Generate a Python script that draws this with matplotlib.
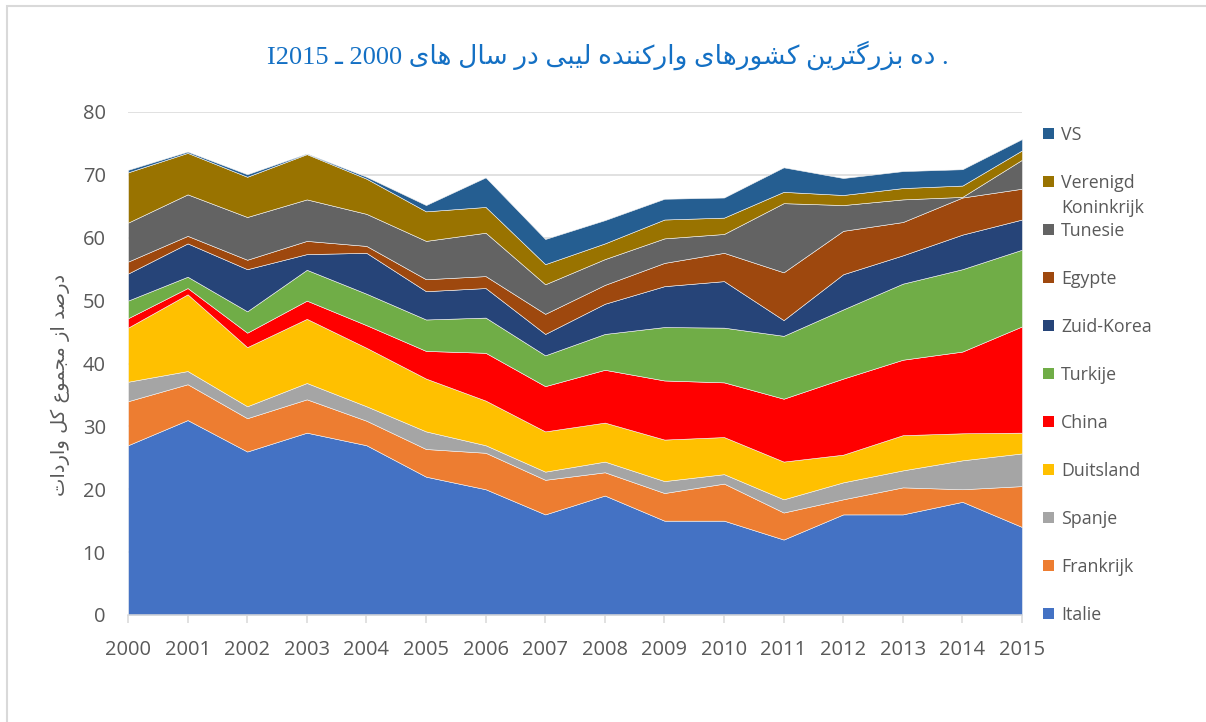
import re

import matplotlib

matplotlib.use("Agg")
import matplotlib.pyplot as plt
from matplotlib.patches import Rectangle

years = list(range(2000, 2016))

italie = [27, 31, 26, 29, 27, 22, 20, 16, 19, 15, 15, 12, 16, 16, 18, 14]
frankrijk = [7.0, 5.7, 5.3, 5.3, 3.9, 4.4, 5.8, 5.5, 3.7, 4.4, 5.9, 4.3, 2.4, 4.3, 2.0, 6.5]
spanje = [3.1, 2.1, 1.9, 2.6, 2.3, 2.8, 1.2, 1.3, 1.7, 1.9, 1.5, 2.1, 2.7, 2.7, 4.6, 5.2]
duitsland = [8.6, 12.2, 9.4, 10.2, 9.3, 8.4, 7.1, 6.4, 6.2, 6.6, 5.9, 6.0, 4.4, 5.6, 4.3, 3.3]
china = [1.5, 1.0, 2.3, 2.9, 3.6, 4.4, 7.6, 7.2, 8.4, 9.4, 8.7, 10.0, 12.1, 12.0, 13.0, 16.9]
turkije = [2.8, 1.8, 3.4, 4.9, 5.0, 5.0, 5.6, 4.9, 5.7, 8.5, 8.7, 10.0, 11.0, 12.1, 13.1, 12.2]
zuid_korea = [4.3, 5.3, 6.7, 2.5, 6.5, 4.5, 4.7, 3.4, 4.8, 6.5, 7.4, 2.5, 5.6, 4.5, 5.5, 4.8]
egypte = [1.9, 1.2, 1.5, 2.1, 1.1, 1.9, 1.9, 3.2, 3.0, 3.7, 4.5, 7.6, 6.9, 5.3, 5.9, 4.9]
tunesie = [6.2, 6.6, 6.8, 6.6, 5.1, 6.1, 6.9, 4.7, 4.1, 3.9, 3.0, 11.0, 4.1, 3.6, 0.1, 4.6]
verenigd_koninkrijk = [8.0, 6.6, 6.4, 7.2, 5.6, 4.7, 4.1, 3.2, 2.5, 3.0, 2.6, 1.8, 1.6, 1.8, 1.8, 1.5]
vs = [0.4, 0.2, 0.4, 0.1, 0.3, 1.0, 4.7, 4.0, 3.7, 3.3, 3.2, 3.9, 2.7, 2.7, 2.6, 1.8]

series = [italie, frankrijk, spanje, duitsland, china, turkije,
          zuid_korea, egypte, tunesie, verenigd_koninkrijk, vs]
labels = ["Italie", "Frankrijk", "Spanje", "Duitsland", "China", "Turkije",
          "Zuid-Korea", "Egypte", "Tunesie", "Verenigd\nKoninkrijk", "VS"]
colors = ["#4472C4", "#ED7D31", "#A5A5A5", "#FFC000", "#FF0000", "#70AD47",
          "#264478", "#9E480E", "#636363", "#997300", "#255E91"]

title = ". ده بزرگترین کشورهای وارکننده لیبی در سال های 2000 ـ I2015"
ylabel = "درصد از مجموع کل واردات"

# matplotlib has no arabic shaping: pick the contextual forms by hand
FORMS = {
    "ا": ("\uFE8D", "\uFE8E", None, None),
    "ب": ("\uFE8F", "\uFE90", "\uFE91", "\uFE92"),
    "ت": ("\uFE95", "\uFE96", "\uFE97", "\uFE98"),
    "ج": ("\uFE9D", "\uFE9E", "\uFE9F", "\uFEA0"),
    "د": ("\uFEA9", "\uFEAA", None, None),
    "ر": ("\uFEAD", "\uFEAE", None, None),
    "ز": ("\uFEAF", "\uFEB0", None, None),
    "س": ("\uFEB1", "\uFEB2", "\uFEB3", "\uFEB4"),
    "ش": ("\uFEB5", "\uFEB6", "\uFEB7", "\uFEB8"),
    "ص": ("\uFEB9", "\uFEBA", "\uFEBB", "\uFEBC"),
    "ع": ("\uFEC9", "\uFECA", "\uFECB", "\uFECC"),
    "ل": ("\uFEDD", "\uFEDE", "\uFEDF", "\uFEE0"),
    "م": ("\uFEE1", "\uFEE2", "\uFEE3", "\uFEE4"),
    "ن": ("\uFEE5", "\uFEE6", "\uFEE7", "\uFEE8"),
    "ه": ("\uFEE9", "\uFEEA", "\uFEEB", "\uFEEC"),
    "و": ("\uFEED", "\uFEEE", None, None),
    "ک": ("\uFB8E", "\uFB8F", "\uFB90", "\uFB91"),
    "گ": ("\uFB92", "\uFB93", "\uFB94", "\uFB95"),
    "ی": ("\uFBFC", "\uFBFD", "\uFBFE", "\uFBFF"),
}


def joins_next(ch):
    return ch in FORMS and FORMS[ch][2] is not None


def shape(text):
    out = []
    for i, ch in enumerate(text):
        if ch not in FORMS:
            out.append(ch)
            continue
        prev_ch = text[i - 1] if i > 0 else ""
        next_ch = text[i + 1] if i + 1 < len(text) else ""
        left = joins_next(prev_ch)
        right = joins_next(ch) and next_ch in FORMS
        iso, fin, ini, med = FORMS[ch]
        if left and right:
            out.append(med)
        elif left:
            out.append(fin)
        elif right:
            out.append(ini)
        else:
            out.append(iso)
    return "".join(out)


def rtl(text):
    shaped = shape(text)
    parts = re.split(r"([A-Za-z0-9]+)", shaped)
    parts = [p if re.fullmatch(r"[A-Za-z0-9]+", p) else p[::-1] for p in parts if p]
    return "".join(reversed(parts))


W, H = 1206, 722
fig = plt.figure(figsize=(W / 100, H / 100), dpi=100)
fig.patch.set_facecolor("white")

ax = fig.add_axes([128 / W, 1 - 615 / H, 894 / W, 503 / H])
ax.stackplot(years, *series, colors=colors, edgecolor="#f4f4f4", linewidth=0.4)

ax.set_xlim(2000, 2015)
ax.set_ylim(0, 80)
ax.set_xticks(years)
ax.set_yticks(range(0, 81, 10))
ax.grid(axis="y", color="#D9D9D9", linewidth=1.1)
ax.set_axisbelow(True)
for side in ["top", "right", "left"]:
    ax.spines[side].set_visible(False)
ax.spines["bottom"].set_color("#D9D9D9")
ax.spines["bottom"].set_linewidth(1.1)
ax.spines["bottom"].set_zorder(5)
ax.tick_params(axis="x", length=6, width=1.1, color="#D9D9D9", pad=12,
               labelsize=14.5, labelcolor="#595959")
ax.tick_params(axis="y", length=0, pad=16, labelsize=14.5, labelcolor="#595959")
for lab in ax.get_xticklabels() + ax.get_yticklabels():
    lab.set_fontfamily("Open Sans")

fig.text(60 / W, 1 - 385 / H, rtl(ylabel), rotation=90, ha="center", va="center",
         fontsize=14, color="#595959", family=["DejaVu Sans"])

fig.text(608 / W, 1 - 55 / H, rtl(title), ha="center", va="center",
         fontsize=19, color="#1470C4", family=["Liberation Serif", "DejaVu Sans"])

# legend, top entry is the last series; wrapped labels go on 25px lines
row_top, row_step = 133.5, 48
for i, (lab, col) in enumerate(zip(labels[::-1], colors[::-1])):
    yc = row_top + i * row_step
    fig.add_artist(Rectangle((1043 / W, 1 - (yc + 5.5) / H), 11 / W, 11 / H,
                             transform=fig.transFigure, facecolor=col, edgecolor="none"))
    for k, line in enumerate(lab.split("\n")):
        fig.text(1061 / W, 1 - (yc + 6.5 + 25 * k) / H, line, ha="left", va="baseline",
                 fontsize=12.8, color="#595959", family="Open Sans")

fig.add_artist(Rectangle((7 / W, -0.05), 1.2, 1.05 - 6 / H, transform=fig.transFigure,
                         facecolor="none", edgecolor="#D9D9D9", linewidth=1.5))

fig.savefig("out.png", dpi=100)
plt.close(fig)
